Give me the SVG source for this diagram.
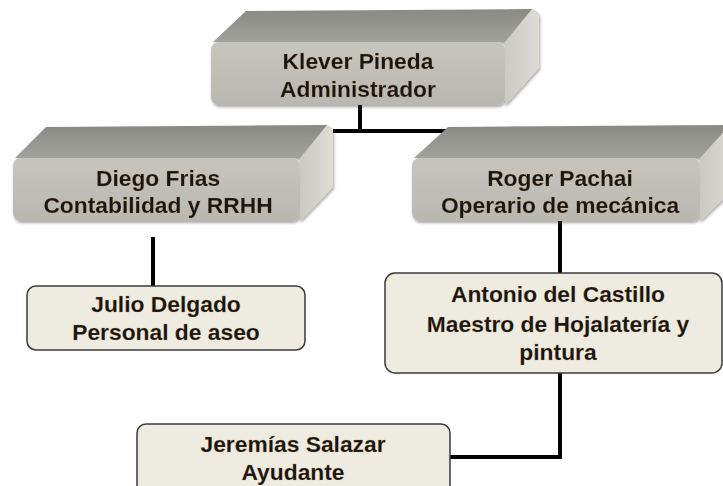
<svg xmlns="http://www.w3.org/2000/svg" width="723" height="486" viewBox="0 0 723 486">
<defs>
<linearGradient id="gTop" x1="0" y1="0" x2="0" y2="1">
<stop offset="0" stop-color="#8a8a84"/>
<stop offset="1" stop-color="#a2a29c"/>
</linearGradient>
<linearGradient id="gFront" x1="0" y1="0" x2="0" y2="1">
<stop offset="0" stop-color="#c6c6be"/>
<stop offset="1" stop-color="#b8b8b0"/>
</linearGradient>
<linearGradient id="gSide" x1="0" y1="0" x2="1" y2="0">
<stop offset="0" stop-color="#cacac2"/>
<stop offset="1" stop-color="#dedcd4"/>
</linearGradient>
<filter id="sh" x="-10%" y="-10%" width="120%" height="130%">
<feGaussianBlur in="SourceAlpha" stdDeviation="1.5"/>
<feOffset dx="1" dy="2" result="b"/>
<feComponentTransfer><feFuncA type="linear" slope="0.35"/></feComponentTransfer>
<feMerge><feMergeNode/><feMergeNode in="SourceGraphic"/></feMerge>
</filter>
</defs>
<style>
.top{fill:url(#gTop);}
.front{fill:url(#gFront);}
.side{fill:url(#gSide);}
.flat{fill:#eeebe0;stroke:#3a3a3a;stroke-width:1.5;}
.t{font-family:"Liberation Sans",Arial,sans-serif;font-weight:bold;font-size:22.8px;fill:#161616;text-anchor:middle;stroke:#c98a3a;stroke-width:0.4;stroke-opacity:0.5;}
.c{fill:none;stroke:#000;stroke-width:4;}
</style>
<rect width="723" height="486" fill="#ffffff"/>
<g id="connectors">
<path class="c" d="M360,103 V131 M333,131 H447"/>
<path class="c" d="M153,237 V286"/>
<path class="c" d="M560,221 V273"/>
<path class="c" d="M560,372 V457 H450"/>
</g>
<g id="klever" filter="url(#sh)">
<polygon class="top" points="213,42 246,11 532,9 539,14 505,42"/>
<polygon class="side" points="505,42 532,9 539,14 539,68 505,105"/>
<rect class="front" x="211" y="42" width="294" height="63" rx="8"/>
<text class="t" x="358" y="69">Klever Pineda</text>
<text class="t" x="358" y="97">Administrador</text>
</g>
<g id="diego" filter="url(#sh)">
<polygon class="top" points="15,158 46,127 327,125 333,130 300,158"/>
<polygon class="side" points="300,158 327,125 333,130 333,187 300,221"/>
<rect class="front" x="13" y="158" width="287" height="63" rx="8"/>
<text class="t" x="158" y="186">Diego Frias</text>
<text class="t" x="158" y="213">Contabilidad y RRHH</text>
</g>
<g id="roger" filter="url(#sh)">
<polygon class="top" points="414,158 448,127 730,125 736,130 700,158"/>
<polygon class="side" points="700,158 730,125 736,130 736,187 700,221"/>
<rect class="front" x="412" y="158" width="288" height="63" rx="8"/>
<text class="t" x="560" y="186">Roger Pachai</text>
<text class="t" x="560" y="213">Operario de mecánica</text>
</g>
<g id="julio">
<rect class="flat" x="27" y="286" width="278" height="64" rx="9"/>
<text class="t" x="166" y="312">Julio Delgado</text>
<text class="t" x="166" y="340">Personal de aseo</text>
</g>
<g id="antonio">
<rect class="flat" x="385" y="273" width="337" height="100" rx="10"/>
<text class="t" x="558" y="302">Antonio del Castillo</text>
<text class="t" x="558" y="332">Maestro de Hojalatería y</text>
<text class="t" x="558" y="360">pintura</text>
</g>
<g id="jeremias">
<rect class="flat" x="137" y="424" width="313" height="70" rx="9"/>
<text class="t" x="293" y="452">Jeremías Salazar</text>
<text class="t" x="293" y="480">Ayudante</text>
</g>
</svg>
